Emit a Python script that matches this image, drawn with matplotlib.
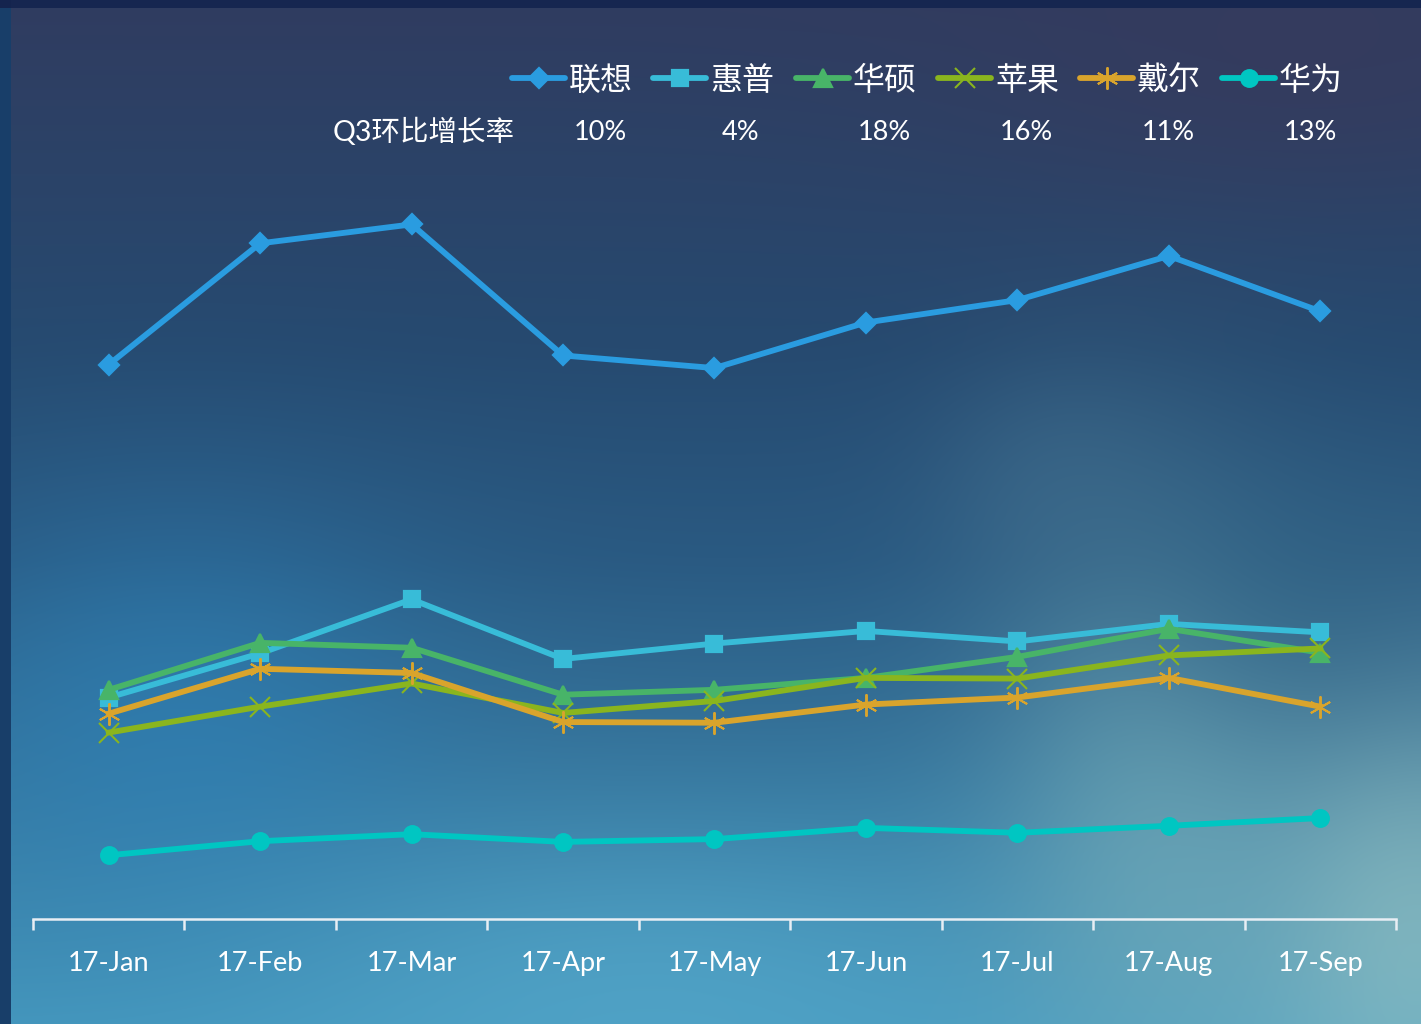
import numpy as np
import matplotlib
matplotlib.use("Agg")
import matplotlib.pyplot as plt
from matplotlib.lines import Line2D

# monthly data (arbitrary units)
months = ['17-Jan', '17-Feb', '17-Mar', '17-Apr', '17-May', '17-Jun', '17-Jul', '17-Aug', '17-Sep']
lenovo = [79.1, 96.4, 99.1, 80.4, 78.6, 85.1, 88.3, 94.6, 86.7]
hp = [31.6, 37.9, 45.6, 37.1, 39.3, 41.1, 39.6, 42.1, 40.9]
asus = [32.7, 39.4, 38.7, 32.0, 32.7, 34.4, 37.4, 41.4, 38.0]
apple = [26.6, 30.3, 33.6, 29.4, 31.1, 34.4, 34.3, 37.6, 38.6]
dell = [29.3, 35.7, 35.1, 28.1, 28.0, 30.6, 31.6, 34.4, 30.3]
huawei = [9.1, 11.1, 12.1, 11.0, 11.4, 13.0, 12.3, 13.3, 14.4]

names = ['联想', '惠普', '华硕', '苹果', '戴尔', '华为']
q3_growth = ['10%', '4%', '18%', '16%', '11%', '13%']

colors = ['#2A9CE0', '#38BCD8', '#48B468', '#8AB51E', '#D9A42C', '#00C6C2']
markers = ['D', 's', '^', 'x', (6, 2, 0), 'o']
msizes = [10.5, 12, 13, 14, 16, 12]
mews = [1.6, 1.6, 1.6, 1.5, 1.4, 1.6]
LW = 4.2

W, H = 1421, 1024
fig = plt.figure(figsize=(W / 100, H / 100), dpi=100)

# background (sky picture look-alike)
yy, xx = np.mgrid[0:H, 0:W]
stops_y = [0, 350, 560, 1024]
stops_c = np.array([[48, 60, 96], [38, 74, 112], [42, 90, 130], [68, 150, 188]], float)
img = np.stack([np.interp(yy, stops_y, stops_c[:, k]) for k in range(3)], axis=-1)
def blend(img, cx, cy, sx, sy, col, a):
    g = np.exp(-(((xx - cx) / sx) ** 2 + ((yy - cy) / sy) ** 2))[..., None] * a
    return img * (1 - g) + np.array(col, float) * g
for cx, cy, sx, sy, col, a in [
        (1300, 60, 350, 150, (56, 58, 92), 0.6),
        (180, 720, 250, 220, (45, 132, 188), 0.55),
        (650, 990, 400, 160, (88, 172, 206), 0.55),
        (1150, 820, 160, 300, (125, 180, 188), 0.55),
        (1420, 920, 180, 260, (165, 205, 198), 0.6),
        (1050, 480, 120, 120, (70, 115, 145), 0.35),
        (1300, 600, 200, 150, (40, 90, 125), 0.4)]:
    img = blend(img, cx, cy, sx, sy, col, a)
img[:8, :] = [22, 38, 80]
img[:, :11] = [24, 62, 105]
img[:8, :11] = [20, 36, 78]
bg = fig.add_axes([0, 0, 1, 1])
bg.imshow(np.clip(img, 0, 255).astype(np.uint8), aspect='auto', extent=[0, W, H, 0])
bg.axis('off')

ax = fig.add_axes([33 / W, (H - 919) / H, (1396 - 33) / W, (919 - 148) / H])
ax.patch.set_alpha(0)
x = np.arange(len(months))
series = [lenovo, hp, asus, apple, dell, huawei]
for s, c, m, ms, mw in zip(series, colors, markers, msizes, mews):
    ax.plot(x, s, color=c, lw=LW, marker=m, ms=ms, mew=mw,
            mec=c, mfc=c, solid_joinstyle='round', clip_on=False)

ax.set_xlim(-0.5, len(months) - 0.5)
ax.set_ylim(0, 110)
ax.set_yticks([])
for sp in ['top', 'right', 'left']:
    ax.spines[sp].set_visible(False)
ax.spines['bottom'].set_color('#E8EEF4')
ax.spines['bottom'].set_linewidth(1.8)
ax.set_xticks(np.arange(len(months) + 1) - 0.5)
ax.set_xticklabels([])
ax.set_xticks(x, minor=True)
ax.set_xticklabels(months, minor=True, fontsize=19.5, color='white', family=['Lato', 'DejaVu Sans'])
ax.tick_params(axis='x', which='major', length=8, width=1.8, color='#E8EEF4')
ax.tick_params(axis='x', which='minor', length=0, pad=23)

# manual legend with growth-rate row
cjk = ['Noto Sans CJK SC', 'DejaVu Sans']
starts = [512, 653, 796, 938, 1080, 1222]
for i, (n, c, m, ms, mw, g) in enumerate(zip(names, colors, markers, msizes, mews, q3_growth)):
    x0 = starts[i]
    yl = 1 - 78 / H
    fig.add_artist(Line2D([x0 / W, (x0 + 53) / W], [yl, yl], transform=fig.transFigure,
                          color=c, lw=LW, solid_capstyle='round'))
    fig.add_artist(Line2D([(x0 + 26.5) / W], [yl], transform=fig.transFigure,
                          color=c, marker=m, ms=ms, mew=mw, mec=c, mfc=c))
    fig.text((x0 + 57) / W, 1 - 81 / H, n, fontsize=23, color='white', family=cjk,
             va='center', ha='left')
    fig.text((x0 + 88) / W, 1 - 133 / H, g, fontsize=19.5, color='white',
             family=['Lato', 'DejaVu Sans'], va='center', ha='center')
fig.text(333 / W, 1 - 132 / H, 'Q3环比增长率', fontsize=20.5, color='white',
         family=['Lato', 'Noto Sans CJK SC'], va='center', ha='left')

fig.savefig('out.png', dpi=100)
